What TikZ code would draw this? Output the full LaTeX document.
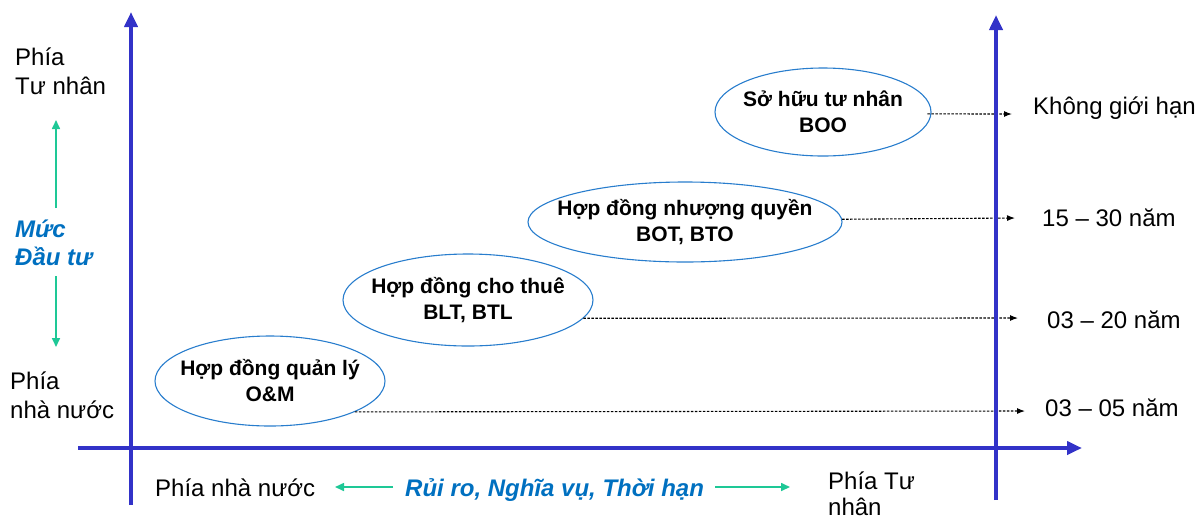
\documentclass[tikz,border=0pt]{standalone}
\usepackage{fontspec}
\setmainfont{Liberation Sans}
\usetikzlibrary{arrows.meta,shapes.geometric}
\definecolor{axisblue}{RGB}{50,50,200}
\definecolor{ellblue}{RGB}{40,125,205}
\definecolor{txtblue}{RGB}{0,112,192}
\definecolor{arrgreen}{RGB}{30,200,150}
\begin{document}
\begin{tikzpicture}[x=1pt,y=-1pt,
  axis/.style={draw=axisblue, line width=4pt, -{Triangle[width=13pt,length=15pt]}},
  ell/.style={ellipse, draw=ellblue, line width=1.1pt, inner sep=-40pt, align=center,
    font=\fontsize{21}{26}\selectfont\bfseries},
  period/.style={anchor=west, inner sep=0pt, font=\fontsize{24}{28}\selectfont},
  lbl/.style={anchor=base west, inner sep=0pt, font=\fontsize{24}{28}\selectfont},
  bluelbl/.style={anchor=base west, inner sep=0pt, text=txtblue,
    font=\fontsize{24}{28}\selectfont\bfseries\itshape},
  dasharrow/.style={draw=black, line width=1.1pt, dash pattern=on 2.5pt off 1.5pt,
    -{Latex[length=8pt,width=6pt]}},
  greenarrow/.style={draw=arrgreen, line width=1.6pt, -{Triangle[length=9pt,width=8pt]}}
]
\useasboundingbox (0,0) rectangle (1198,520);

% ellipses
\node[ell, minimum width=230pt, minimum height=90pt] (om) at (270,381)
  {Hợp đồng quản lý\\O\&M};
\node[ell, minimum width=250pt, minimum height=92pt] (blt) at (468,300)
  {Hợp đồng cho thuê\\BLT, BTL};
\node[ell, minimum width=314pt, minimum height=80pt] (bot) at (685,222)
  {Hợp đồng nhượng quyền\\BOT, BTO};
\node[ell, minimum width=216pt, minimum height=88pt] (boo) at (823,112)
  {Sở hữu tư nhân\\BOO};

% period labels
\node[period] (p1) at (1045,408) {03 – 05 năm};
\node[period] (p2) at (1047,320) {03 – 20 năm};
\node[period] (p3) at (1042,218) {15 – 30 năm};
\node[period] (p4) at (1033,108) {Không giới hạn};

\coordinate (e1) at (1025,411);
\coordinate (e2) at (1018,318);
\coordinate (e3) at (1015,218);
\coordinate (e4) at (1012,114);

\draw[dasharrow] (om.-20.6) -- (e1);
\draw[dasharrow] (blt.-9.1) -- (e2);
\draw[dasharrow] (bot.1.5) -- (e3);
\draw[dasharrow] ([xshift=-4pt]boo.-1) -- (e4);

% axes
\coordinate (hx0) at (78,448);
\coordinate (hx1) at (1082,448);
\coordinate (lv0) at (131,505);
\coordinate (lv1) at (131,12);
\coordinate (rv0) at (996,500);
\coordinate (rv1) at (996,15);
\draw[axis] (hx0) -- (hx1);
\draw[axis] (lv0) -- (lv1);
\draw[axis] (rv0) -- (rv1);

% left labels
\node[lbl] (lt1) at (15,65) {Phía};
\node[lbl] (lt2) at (15,94) {Tư nhân};
\node[bluelbl] (lm1) at (15,237) {Mức};
\node[bluelbl] (lm2) at (15,265) {Đầu tư};
\node[lbl] (lb1) at (10,389) {Phía};
\node[lbl] (lb2) at (10,418) {nhà nước};

\coordinate (ga0) at (56,208);
\coordinate (ga1) at (56,120);
\coordinate (gb0) at (56,276);
\coordinate (gb1) at (56,347);
\draw[greenarrow] (ga0) -- (ga1);
\draw[greenarrow] (gb0) -- (gb1);

% bottom labels
\node[lbl] (bl) at (155,496) {Phía nhà nước};
\node[bluelbl] (bm) at (405,496) {Rủi ro, Nghĩa vụ, Thời hạn};
\node[lbl] (br1) at (828,489) {Phía Tư};
\node[lbl] (br2) at (828,515) {nhân};

\coordinate (gc0) at (393,487);
\coordinate (gc1) at (335,487);
\coordinate (gd0) at (715,487);
\coordinate (gd1) at (790,487);
\draw[greenarrow] (gc0) -- (gc1);
\draw[greenarrow] (gd0) -- (gd1);
\end{tikzpicture}
\end{document}
